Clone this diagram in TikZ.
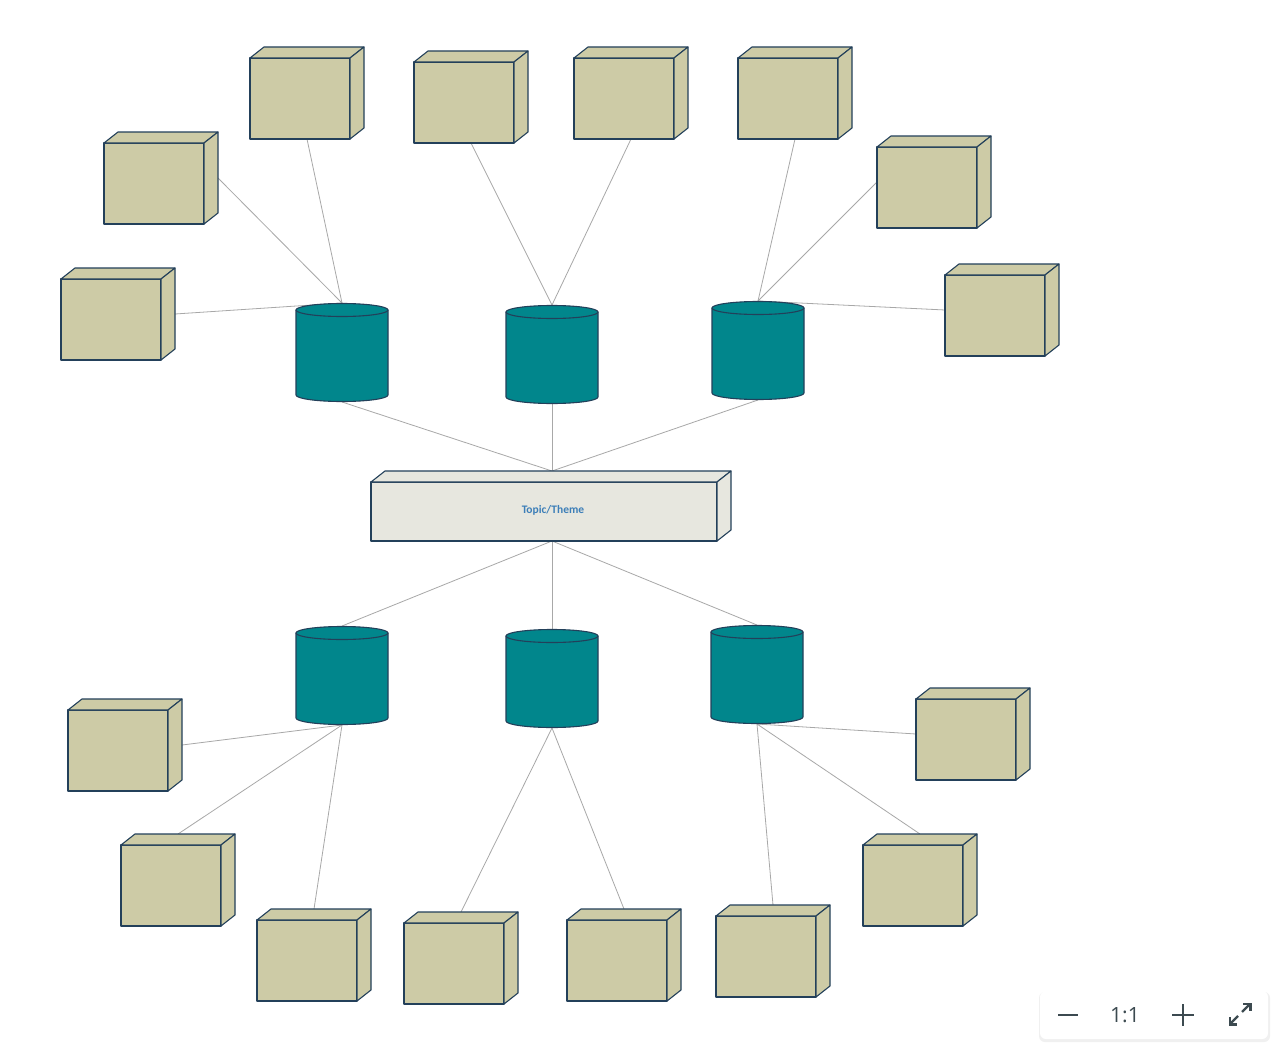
\documentclass[tikz,border=0pt]{standalone}
\usepackage{fontspec}
\setmainfont{Carlito}
\newfontfamily\uifont{Open Sans}
\usetikzlibrary{calc}
\pgfdeclarelayer{canvas}
\pgfdeclarelayer{background}
\pgfsetlayers{canvas,background,main}
\definecolor{cubefill}{HTML}{CDCBA6}
\definecolor{edgecol}{HTML}{23405A}
\definecolor{cylfill}{HTML}{01868C}
\definecolor{topicfill}{HTML}{E7E7DF}
\definecolor{linkcol}{HTML}{A8A8A8}
\definecolor{topictext}{HTML}{3D7FB8}
\definecolor{uicol}{HTML}{3C4A50}
\tikzset{
  bb/.style={rectangle, inner sep=0pt, outer sep=0pt, draw=none},
  face/.style={fill=cubefill, draw=edgecol, line width=1.1pt, line join=round},
  cylface/.style={fill=cylfill, draw=edgecol, line width=1.1pt, line join=round},
  topicface/.style={fill=topicfill, draw=edgecol, line width=1.1pt, line join=round},
  link/.style={draw=linkcol, line width=0.8pt},
  uiline/.style={draw=uicol, line width=2.2pt}
}
% cube: name, bbox left x, bbox top y
\newcommand\mycube[3]{%
  \node[bb, minimum width=114pt, minimum height=92pt] (#1) at (#2+57,#3+46) {};
  \draw[face] (#2,#3+11) rectangle (#2+100,#3+92);
  \draw[face] (#2,#3+11) -- (#2+14,#3) -- (#2+114,#3) -- (#2+100,#3+11) -- cycle;
  \draw[face] (#2+100,#3+11) -- (#2+114,#3) -- (#2+114,#3+81) -- (#2+100,#3+92) -- cycle;
}
% cylinder: name, centre x, top ellipse centre y, bottom ellipse centre y
\newcommand\mycyl[4]{%
  \node[bb, minimum width=92pt, minimum height={#4-#3+14}] (#1) at (#2,{(#3+#4)/2}) {};
  \draw[cylface] (#2-46,#3) -- (#2-46,#4) arc[start angle=180, end angle=0, x radius=46, y radius=6.5] -- (#2+46,#3) -- cycle;
  \draw[cylface] (#2,#3) ellipse[x radius=46, y radius=6.5];
}
\begin{document}
\begin{tikzpicture}[x=1pt,y=-1pt]
\begin{pgfonlayer}{canvas}
\fill[white] (0,0) rectangle (1280,1057);
\end{pgfonlayer}
\useasboundingbox (0,0) rectangle (1280,1057);

% central topic box (bbox 371..731, 471..541)
\node[bb, minimum width=362pt, minimum height=70pt] (T) at (552,506) {};
\draw[topicface] (371,482) rectangle (717,541);
\draw[topicface] (371,482) -- (385,471) -- (731,471) -- (717,482) -- cycle;
\draw[topicface] (717,482) -- (731,471) -- (731,530) -- (717,541) -- cycle;
\node[font=\bfseries\fontsize{11.5}{13}\selectfont, text=topictext] (Tlabel) at (553,510) {Topic/Theme};

% cylinders
\mycyl{cA}{342}{310}{395}
\mycyl{cB}{552}{312}{397}
\mycyl{cC}{758}{308}{393}
\mycyl{cD}{342}{633}{718}
\mycyl{cE}{552}{636}{721}
\mycyl{cF}{757}{632}{717}

% cubes (top group)
\mycube{k1}{250}{47}
\mycube{k2}{414}{51}
\mycube{k3}{574}{47}
\mycube{k4}{738}{47}
\mycube{k5}{104}{132}
\mycube{k6}{877}{136}
\mycube{k7}{61}{268}
\mycube{k8}{945}{264}
% cubes (bottom group)
\mycube{k9}{68}{699}
\mycube{k10}{916}{688}
\mycube{k11}{121}{834}
\mycube{k12}{863}{834}
\mycube{k13}{257}{909}
\mycube{k14}{404}{912}
\mycube{k15}{567}{909}
\mycube{k16}{716}{905}

\begin{pgfonlayer}{background}
  \draw[link] (cA.north) -- (k7.east);
  \draw[link] (cA.north) -- (k5.east);
  \draw[link] (cA.north) -- (k1.south);
  \draw[link] (cB.north) -- (k2.south);
  \draw[link] (cB.north) -- (k3.south);
  \draw[link] (cC.north) -- (k4.south);
  \draw[link] (cC.north) -- (k6.west);
  \draw[link] (cC.north) -- (k8.west);
  \draw[link] (cA.south) -- (T.north);
  \draw[link] (cB.south) -- (T.north);
  \draw[link] (cC.south) -- (T.north);
  \draw[link] (T.south) -- (cD.north);
  \draw[link] (T.south) -- (cE.north);
  \draw[link] (T.south) -- (cF.north);
  \draw[link] (cD.south) -- (k9.east);
  \draw[link] (cD.south) -- (k11.north);
  \draw[link] (cD.south) -- (k13.north);
  \draw[link] (cE.south) -- (k14.north);
  \draw[link] (cE.south) -- (k15.north);
  \draw[link] (cF.south) -- (k10.west);
  \draw[link] (cF.south) -- (k12.north);
  \draw[link] (cF.south) -- (k16.north);
\end{pgfonlayer}

% zoom widget
\fill[black!6, rounded corners=6pt] (1039,992) rectangle (1270,1042);
\node[bb, fill=white, rounded corners=6pt, minimum width=228pt, minimum height=48pt] (W) at (1154,1015) {};
\draw[uiline] (1058,1015) -- (1078,1015);
\node[font=\uifont\fontsize{21}{24}\selectfont, text=uicol] (ratio) at (1125,1015) {1:1};
\draw[uiline] (1172,1015) -- (1194,1015);
\draw[uiline] (1183,1004) -- (1183,1026);
\draw[uiline] (1230,1024) -- (1238,1016);
\draw[uiline] (1230,1017) -- (1230,1024.5) -- (1237,1024.5);
\draw[uiline] (1242,1012) -- (1250,1004);
\draw[uiline] (1243,1004) -- (1250.5,1004) -- (1250.5,1011);
\end{tikzpicture}
\end{document}
